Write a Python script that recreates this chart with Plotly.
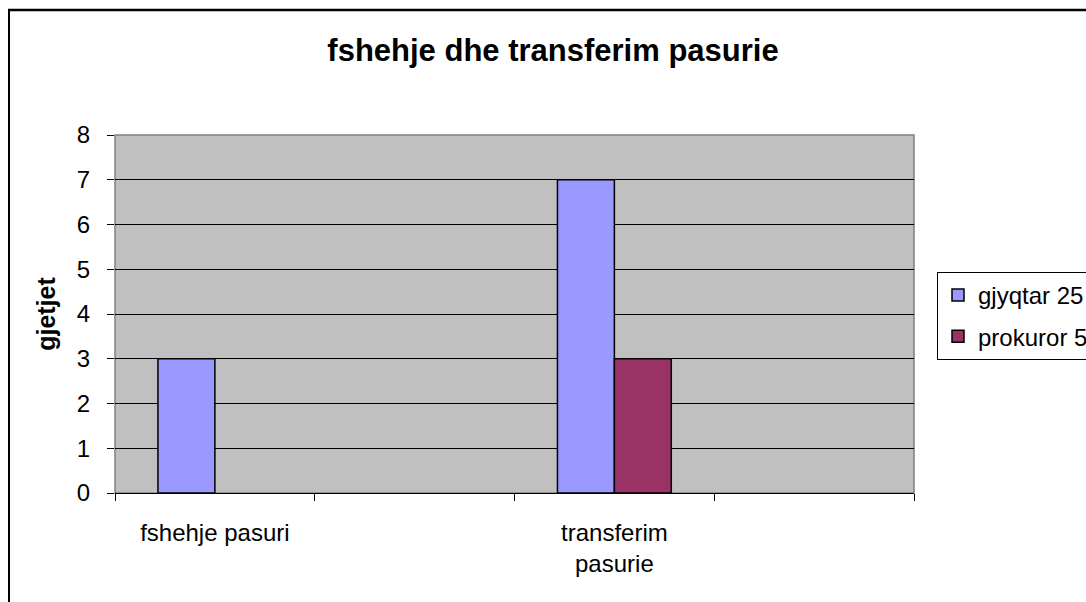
import plotly.graph_objects as go

# Chart data
categories = ["fshehje pasuri", " ", "transferim<br>pasurie", "  "]
gjyqtar_25 = [3, None, 7, None]
prokuror_5 = [None, None, 3, None]
y_ticks = [0, 1, 2, 3, 4, 5, 6, 7, 8]

FONT = "Arial, Liberation Sans, sans-serif"
W, H = 1086, 602
L, R, T, B = 115, 172, 135, 109  # plot-area margins in pixels

fig = go.Figure()
fig.add_trace(go.Bar(
    x=categories, y=gjyqtar_25, name="gjyqtar 25", legendgroup="a",
    marker=dict(color="#9999FF", line=dict(color="black", width=1.5)),
))
fig.add_trace(go.Bar(
    x=categories, y=prokuror_5, name="prokuror 5", legendgroup="b",
    marker=dict(color="#993366", line=dict(color="black", width=1.5)),
))

pw = W - L - R
ph = H - T - B
def px_x(p):
    return (p - L) / pw
def px_y(p):
    return (H - B - p) / ph

shapes = [
    # gray plot-area frame
    dict(type="rect", xref="paper", yref="paper", x0=0, x1=1, y0=0, y1=1,
         line=dict(color="#808080", width=1.5), layer="below"),
    # outer chart border (top and left edges)
    dict(type="line", xref="paper", yref="paper", x0=px_x(8), x1=px_x(1100),
         y0=px_y(10), y1=px_y(10), line=dict(color="black", width=2.5)),
    dict(type="line", xref="paper", yref="paper", x0=px_x(9), x1=px_x(9),
         y0=px_y(9), y1=px_y(620), line=dict(color="black", width=2)),
]

fig.update_layout(
    width=W, height=H,
    margin=dict(l=L, r=R, t=T, b=B, pad=0, autoexpand=False),
    paper_bgcolor="white",
    plot_bgcolor="#C0C0C0",
    font=dict(family=FONT, size=24, color="black"),
    barmode="group",
    bargap=0.43,
    bargroupgap=0,
    title=dict(text="<b>fshehje dhe transferim pasurie</b>",
               font=dict(family=FONT, size=31, color="black"),
               x=553 / W, xanchor="center", y=1 - 50 / H, yanchor="middle",
               xref="container", yref="container"),
    showlegend=True,
    legend=dict(x=px_x(937), xanchor="left", y=px_y(272), yanchor="top",
                bgcolor="white", bordercolor="black", borderwidth=1,
                font=dict(family=FONT, size=24, color="black"),
                traceorder="grouped", tracegroupgap=7),
    shapes=shapes,
)

fig.update_xaxes(
    type="category", categoryorder="array", categoryarray=categories,
    tickson="boundaries", ticks="outside", ticklen=7, tickcolor="black",
    tickwidth=1, showline=True, linecolor="black", linewidth=1,
    showgrid=False, ticklabelstandoff=18,
    tickfont=dict(family=FONT, size=24, color="black"),
)
fig.update_yaxes(
    range=[0, 8], tickvals=y_ticks, ticks="outside", ticklen=7,
    tickcolor="black", tickwidth=1, showgrid=True, gridcolor="black",
    gridwidth=1, zeroline=False, showline=False, ticklabelstandoff=12,
    tickfont=dict(family=FONT, size=24, color="black"),
    title=dict(text="<b>gjetjet</b>", font=dict(family=FONT, size=25, color="black"),
               standoff=14),
)

fig.write_html("out.html")
